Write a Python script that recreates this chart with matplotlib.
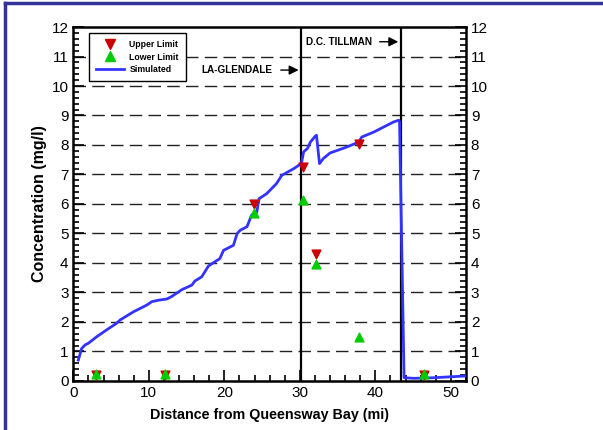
import matplotlib.pyplot as plt
from matplotlib.lines import Line2D
from matplotlib.ticker import MultipleLocator

plt.rcParams['font.family'] = ['Liberation Sans', 'DejaVu Sans']

# Simulierte Konzentration entlang des Flusses
sim_x = [0.66, 1.1, 1.55, 2.0, 3.1, 4.4, 5.7, 6.2, 8.0, 9.7, 10.4, 11.3, 12.4, 13.0,
         14.4, 15.7, 16.1, 17.0, 17.9, 19.4, 19.9, 21.2, 21.7, 22.1, 23.0, 23.6, 24.3,
         24.6, 25.6, 26.9, 27.6, 29.2, 30.2, 30.5, 31.0, 31.4, 32.0, 32.2, 32.6, 33.1,
         34.0, 36.2, 37.8, 38.2, 39.8, 42.4, 43.1, 43.2, 43.8, 45.1, 47.7, 52.0]
sim_y = [0.71, 1.1, 1.22, 1.28, 1.5, 1.73, 1.95, 2.07, 2.35, 2.57, 2.69, 2.74, 2.78, 2.86,
         3.1, 3.25, 3.39, 3.53, 3.9, 4.15, 4.43, 4.6, 5.0, 5.11, 5.23, 5.62, 5.73,
         6.18, 6.35, 6.69, 6.97, 7.2, 7.37, 7.77, 7.88, 8.1, 8.29, 8.33, 7.37, 7.54,
         7.73, 7.93, 8.1, 8.27, 8.44, 8.78, 8.84, 8.78, 0.11, 0.09, 0.11, 0.17]

# Messwerte (obere / untere Grenze)
mess_x = [3.0, 12.1, 23.9, 30.4, 32.2, 37.8, 46.5]
obere = [0.2, 0.2, 6.0, 7.25, 4.3, 8.05, 0.2]
untere = [0.25, 0.25, 5.7, 6.15, 3.95, 1.5, 0.25]

# Klaeranlagen
anlagen = ['LA-GLENDALE', 'D.C. TILLMAN']
anlagen_x = [30.2, 43.4]

fig = plt.figure(figsize=(6.03, 4.3), dpi=100)
ax = fig.add_axes([0.1216, 0.114, 0.6512, 0.8232])

for y in range(1, 12):
    ax.axhline(y, color='#222222', lw=1.0, ls=(0, (9, 4.5)), zorder=1)

for xv in anlagen_x:
    ax.axvline(xv, color='black', lw=1.6, zorder=2)

ax.plot(sim_x, sim_y, color='#3333ff', lw=2, zorder=3, label='Simulated')
ax.scatter(mess_x, obere, marker='v', s=40, color='#cc0000', zorder=4, label='Upper Limit')
ax.scatter(mess_x, untere, marker='^', s=40, color='#00cc00', zorder=5, label='Lower Limit')

ax.annotate('', xy=(anlagen_x[0], 10.54), xytext=(27.1, 10.54),
            arrowprops=dict(arrowstyle='-|>', color='black', lw=1, mutation_scale=14))
ax.text(26.4, 10.54, anlagen[0], ha='right', va='center', fontsize=7.2, fontweight='bold')
ax.annotate('', xy=(anlagen_x[1], 11.5), xytext=(40.2, 11.5),
            arrowprops=dict(arrowstyle='-|>', color='black', lw=1, mutation_scale=14))
ax.text(39.5, 11.5, anlagen[1], ha='right', va='center', fontsize=7.2, fontweight='bold')

ax.set_xlim(0, 52)
ax.set_ylim(0, 12)
ax.xaxis.set_major_locator(MultipleLocator(10))
ax.xaxis.set_minor_locator(MultipleLocator(2))
ax.yaxis.set_major_locator(MultipleLocator(1))
ax.yaxis.set_minor_locator(MultipleLocator(0.2))
ax.tick_params(which='both', direction='in', left=True, right=True, bottom=True, top=False,
               labelright=True, labelsize=11, width=1.2)
ax.tick_params(which='major', length=8)
ax.tick_params(which='minor', length=4)
for s in ax.spines.values():
    s.set_linewidth(1.8)

ax.set_xlabel('Distance from Queensway Bay (mi)', fontsize=10.3, fontweight='bold', labelpad=6)
ax.set_ylabel('Concentration (mg/l)', fontsize=11.5, fontweight='bold', labelpad=3)

handles = [
    Line2D([], [], marker='v', ls='none', color='#cc0000', markersize=6.5),
    Line2D([], [], marker='^', ls='none', color='#00cc00', markersize=6.5),
    Line2D([], [], color='#3333ff', lw=2),
]
leg = ax.legend(handles, ['Upper Limit', 'Lower Limit', 'Simulated'],
                loc='upper left', bbox_to_anchor=(0.04, 0.983), fancybox=False,
                edgecolor='black', framealpha=1, handlelength=3.2, handletextpad=0.6,
                prop={'size': 6.3, 'weight': 'bold'}, labelspacing=0.4, borderpad=0.8,
                borderaxespad=0)
leg.get_frame().set_linewidth(1)

# blauer Rahmen
rahmen = '#333399'
fig.add_artist(Line2D([0.0083, 0.0083], [0, 0.993], color=rahmen, lw=2.5))
fig.add_artist(Line2D([0.0083, 1], [0.993, 0.993], color=rahmen, lw=2.5))

fig.savefig('out.png', dpi=100)
